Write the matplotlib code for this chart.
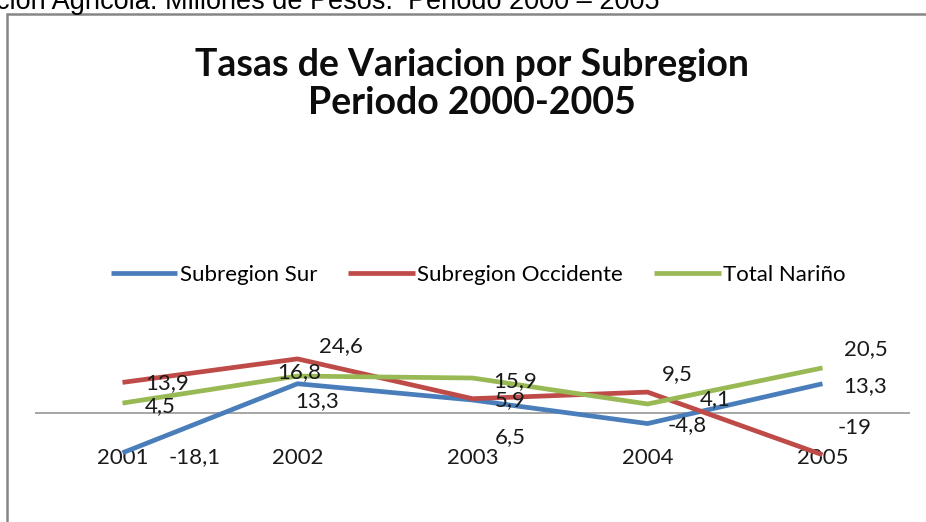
"""Tasas de variacion por subregion, 2000-2005 (line chart, Excel style)."""

import matplotlib
matplotlib.use("Agg")
import matplotlib.pyplot as plt  # noqa: E402
from matplotlib.patches import Rectangle  # noqa: E402

years = ["2001", "2002", "2003", "2004", "2005"]
sur = [-18.1, 13.3, 5.9, -4.8, 13.3]
occidente = [13.9, 24.6, 6.5, 9.5, -19.0]
total_narino = [4.5, 16.8, 15.9, 4.1, 20.5]

series_names = ["Subregion Sur", "Subregion Occidente", "Total Nariño"]
colors = ["#4A7EBB", "#BE4B48", "#98B954"]

# label offsets in pixels (dx, dy), the way Excel happened to place them
label_offsets = [
    [(72, -4), (20, -17), (38, 0), (40, -2), (43, -2)],
    [(45, -1), (43, 13), (38, -38), (30, 18), (32, 27)],
    [(38, -3), (2, 4), (43, -3), (68, 5), (43, 19)],
]

W, H, DPI = 926, 522, 100
fig = plt.figure(figsize=(W / DPI, H / DPI), dpi=DPI)
fig.patch.set_facecolor("white")

chart_font = ["Lato", "DejaVu Sans"]
text_col = "#1a1a1a"
label_size = 16

# clipped caption from the document above the chart
fig.text(-4 / W, 1 - 9 / H, "cion Agricola: Millones de Pesos.  Periodo 2000 – 2005",
         fontsize=19.5, family="Liberation Sans", ha="left", va="baseline")

# chart frame
fig.patches.append(Rectangle((7 / W, -0.1), 1.2, 1 - 14 / H + 0.1,
                             transform=fig.transFigure, fill=False,
                             edgecolor="#868686", linewidth=1.8))

fig.text(472 / W, 1 - 84 / H, "Tasas de Variacion por Subregion\nPeriodo 2000-2005",
         fontsize=27, fontweight="bold", family=chart_font, ha="center",
         va="center", linespacing=1.12, color="#0d0d0d")

# plot area: zero at y=413 px, ~2.2 px per unit, categories 35..910 px
ax = fig.add_axes([35 / W, (522 - 479) / H, 875 / W, 132 / H])
ax.set_facecolor("none")
x = list(range(len(years)))
lines = []
for vals, name, col, offs in zip([sur, occidente, total_narino], series_names,
                                 colors, label_offsets):
    ln, = ax.plot(x, vals, color=col, linewidth=3.4, label=name,
                  solid_joinstyle="round", solid_capstyle="butt", clip_on=False)
    lines.append(ln)
    for xi, v, (dx, dy) in zip(x, vals, offs):
        ax.annotate(f"{v:g}".replace(".", ","), (xi, v), xytext=(dx, dy),
                    textcoords="offset pixels", ha="center", va="center",
                    fontsize=label_size, family=chart_font, color=text_col,
                    annotation_clip=False)

ax.axhline(0, color="#A6A6A6", linewidth=1.4, zorder=0)
ax.set_xlim(-0.5, 4.5)
ax.set_ylim(-30, 30)
ax.set_yticks([])
ax.spines["bottom"].set_position(("data", -16.0))
for s in ax.spines.values():
    s.set_visible(False)
ax.set_xticks(x)
ax.set_xticklabels(years, fontsize=label_size, family=chart_font, color=text_col)
ax.tick_params(axis="x", length=0, pad=0)

fig.legend(handles=lines, loc="center", bbox_to_anchor=(478 / W, 1 - 275 / H),
           ncol=3, frameon=False, handlelength=3.0, handletextpad=0.1,
           columnspacing=1.4, prop={"family": chart_font, "size": label_size})

fig.savefig("out.png", dpi=DPI, facecolor=fig.get_facecolor())
